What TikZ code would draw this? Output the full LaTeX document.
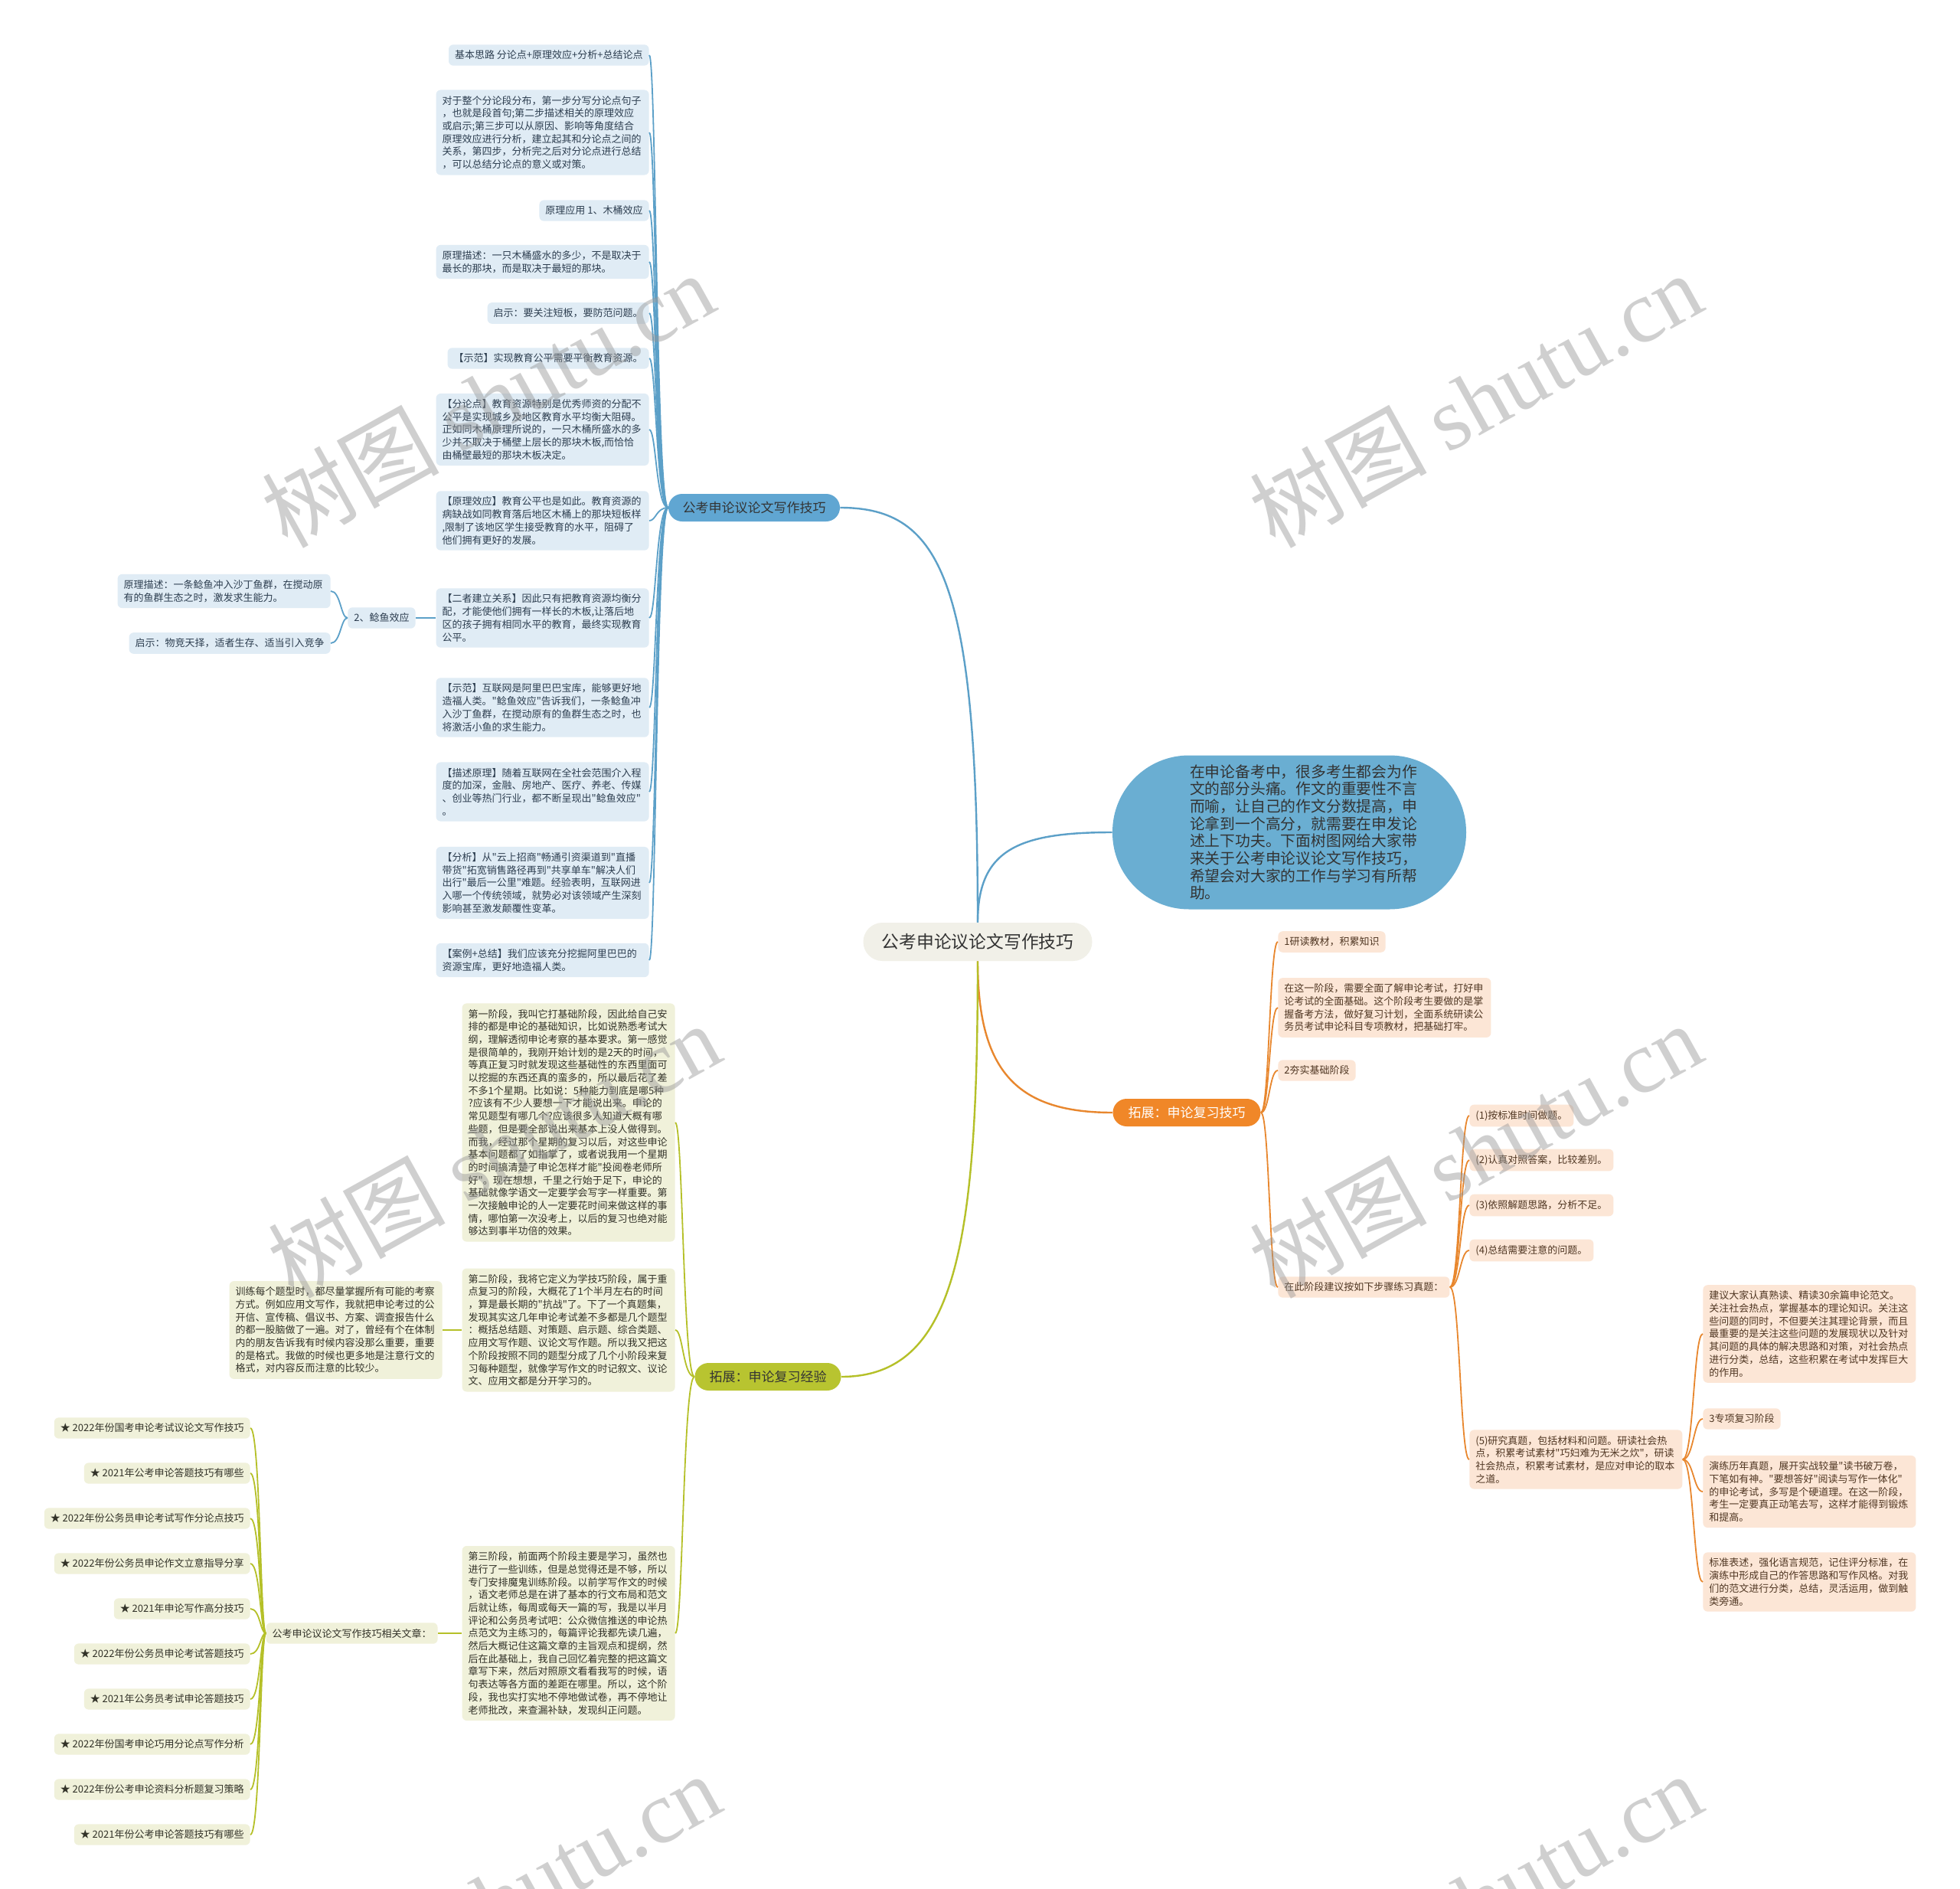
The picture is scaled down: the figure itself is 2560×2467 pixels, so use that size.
\documentclass[tikz,border=0pt]{standalone}
\usepackage{fontspec}
\setmainfont{Noto Sans CJK SC}
\newfontfamily\cjk{Noto Sans CJK SC}
\newfontfamily\wmlatin{Liberation Serif}

% colours
\definecolor{rootfill}{RGB}{241,240,232}
\definecolor{darktext}{RGB}{51,51,51}
\definecolor{blueln}{RGB}{92,160,200}
\definecolor{bluebranch}{RGB}{96,166,210}
\definecolor{bubblefill}{RGB}{106,174,210}
\definecolor{bluepale}{RGB}{224,236,245}
\definecolor{bluetext}{RGB}{45,62,80}
\definecolor{orangeln}{RGB}{232,135,46}
\definecolor{orangebranch}{RGB}{240,135,40}
\definecolor{orangepale}{RGB}{252,230,214}
\definecolor{orangetext}{RGB}{80,55,35}
\definecolor{greenln}{RGB}{181,192,40}
\definecolor{greenbranch}{RGB}{184,196,48}
\definecolor{greenpale}{RGB}{240,241,218}
\definecolor{greentext}{RGB}{50,50,40}
\definecolor{wmgray}{RGB}{150,150,150}

\newcommand\leaffont{\cjk\fontsize{6.5pt}{8.35pt}\selectfont}
\newcommand\branchfont{\cjk\fontsize{8.5pt}{10pt}\selectfont}
\newcommand\rootfont{\cjk\fontsize{11.4pt}{13pt}\selectfont}
\newcommand\bubblefont{\cjk\fontsize{9.9pt}{11.35pt}\selectfont}

\tikzset{
  leaf/.style={inner xsep=4pt, inner ysep=3.8pt, rounded corners=3pt, font=\leaffont, align=left},
  wide/.style={text width=131pt},
  bleaf/.style={leaf, fill=bluepale, text=bluetext, anchor=east},
  oleaf/.style={leaf, fill=orangepale, text=orangetext, anchor=west},
  gleaf/.style={leaf, fill=greenpale, text=greentext, anchor=east},
  branch/.style={rounded corners=9pt, minimum height=18pt, inner xsep=9pt, font=\branchfont},
  bline/.style={draw=blueln, line width=0.9pt},
  oline/.style={draw=orangeln, line width=0.9pt},
  gline/.style={draw=greenln, line width=0.9pt},
}

\begin{document}
\begin{tikzpicture}[x=0.5pt, y=-0.5pt]
  \useasboundingbox (0,0) rectangle (2560,2467);
  \fill[white] (0,0) rectangle (2560,2467);

  % centre and intro
  \node[fill=rootfill, text=darktext, rounded corners=12.5pt, minimum width=149.5pt, minimum height=25pt, font=\rootfont] (root) at (1277,1230) {公考申论议论文写作技巧};
  \node[fill=bubblefill, text=darktext, rounded corners=50pt, minimum width=231pt, minimum height=100.5pt, text width=130pt, align=left, font=\bubblefont] (intro) at (1684,1087) {在申论备考中，很多考生都会为作\\文的部分头痛。作文的重要性不言\\而喻，让自己的作文分数提高，申\\论拿到一个高分，就需要在申发论\\述上下功夫。下面树图网给大家带\\来关于公考申论议论文写作技巧，\\希望会对大家的工作与学习有所帮\\助。};

  % branches
  \node[branch, fill=bluebranch, text=darktext, minimum width=112pt] (bb) at (985,663) {公考申论议论文写作技巧};
  \node[branch, fill=orangebranch, text=white, minimum width=96.5pt] (ob) at (1550,1453) {拓展：申论复习技巧};
  \node[branch, fill=greenbranch, text=darktext, minimum width=95.5pt] (gb) at (1003,1798) {拓展：申论复习经验};

  \draw[bline, line width=1.2pt] (root.north) .. controls +(0,-445) and +(133,0) .. (bb.east);
  \draw[bline, line width=1.2pt] (root.north) .. controls +(0,-95) and +(-123,0) .. (intro.west);
  \draw[oline, line width=1.2pt] (root.south) .. controls +(0,146) and +(-123,0) .. (ob.west);
  \draw[gline, line width=1.2pt] (root.south) .. controls +(0,366) and +(151,0) .. (gb.east);

  % blue branch
  \node[bleaf] (b1) at (848,72) {基本思路 分论点+原理效应+分析+总结论点};
  \node[bleaf, wide] (b2) at (848,173) {对于整个分论段分布，第一步分写分论点句子\\，也就是段首句;第二步描述相关的原理效应\\或启示;第三步可以从原因、影响等角度结合\\原理效应进行分析，建立起其和分论点之间的\\关系，第四步，分析完之后对分论点进行总结\\，可以总结分论点的意义或对策。};
  \node[bleaf] (b3) at (848,275) {原理应用 1、木桶效应};
  \node[bleaf, wide] (b4) at (848,342) {原理描述：一只木桶盛水的多少，不是取决于\\最长的那块，而是取决于最短的那块。};
  \node[bleaf] (b5) at (848,409) {启示：要关注短板，要防范问题。};
  \node[bleaf] (b6) at (848,468) {【示范】实现教育公平需要平衡教育资源。};
  \node[bleaf, wide] (b7) at (848,561) {【分论点】教育资源特别是优秀师资的分配不\\公平是实现城乡及地区教育水平均衡大阻碍。\\正如同木桶原理所说的，一只木桶所盛水的多\\少并不取决于桶壁上层长的那块木板,而恰恰\\由桶壁最短的那块木板决定。};
  \node[bleaf, wide] (b8) at (848,680) {【原理效应】教育公平也是如此。教育资源的\\病缺战如同教育落后地区木桶上的那块短板样\\,限制了该地区学生接受教育的水平，阻碍了\\他们拥有更好的发展。};
  \node[bleaf, wide] (b9) at (848,807) {【二者建立关系】因此只有把教育资源均衡分\\配，才能使他们拥有一样长的木板,让落后地\\区的孩子拥有相同水平的教育，最终实现教育\\公平。};
  \node[bleaf, wide] (b10) at (848,924) {【示范】互联网是阿里巴巴宝库，能够更好地\\造福人类。"鲶鱼效应"告诉我们，一条鲶鱼冲\\入沙丁鱼群，在搅动原有的鱼群生态之时，也\\将激活小鱼的求生能力。};
  \node[bleaf, wide] (b11) at (848,1034) {【描述原理】随着互联网在全社会范围介入程\\度的加深，金融、房地产、医疗、养老、传媒\\、创业等热门行业，都不断呈现出"鲶鱼效应"\\。};
  \node[bleaf, wide] (b12) at (848,1153) {【分析】从"云上招商"畅通引资渠道到"直播\\带货"拓宽销售路径再到"共享单车"解决人们\\出行"最后一公里"难题。经验表明，互联网进\\入哪一个传统领域，就势必对该领域产生深刻\\影响甚至激发颠覆性变革。};
  \node[bleaf, wide] (b13) at (848,1254) {【案例+总结】我们应该充分挖掘阿里巴巴的\\资源宝库，更好地造福人类。};

  \coordinate (bsp) at (857,663);
  \foreach \i in {1,...,13}
    \draw[bline] (bb.west) .. controls (bsp) and (bsp |- b\i.east) .. (b\i.east);

  % catfish effect
  \node[bleaf] (n0) at (543,807) {2、鲶鱼效应};
  \node[bleaf, wide] (n1) at (432,772) {原理描述：一条鲶鱼冲入沙丁鱼群，在搅动原\\有的鱼群生态之时，激发求生能力。};
  \node[bleaf] (n2) at (432,840) {启示：物竞天择，适者生存、适当引入竞争};
  \draw[bline] (b9.west) -- (n0.east);
  \coordinate (nsp) at (445,807);
  \foreach \c in {n1,n2}
    \draw[bline] (n0.west) .. controls (nsp) and (nsp |- \c.east) .. (\c.east);

  % orange branch
  \node[oleaf] (o1) at (1669,1230) {1研读教材，积累知识};
  \node[oleaf, wide] (o2) at (1669,1316) {在这一阶段，需要全面了解申论考试，打好申\\论考试的全面基础。这个阶段考生要做的是掌\\握备考方法，做好复习计划，全面系统研读公\\务员考试申论科目专项教材，把基础打牢。};
  \node[oleaf] (o3) at (1669,1398) {2夯实基础阶段};
  \node[oleaf] (o4) at (1669,1681) {在此阶段建议按如下步骤练习真题：};
  \coordinate (osp) at (1658,1453);
  \foreach \i in {1,...,4}
    \draw[oline] (ob.east) .. controls (osp) and (osp |- o\i.west) .. (o\i.west);

  \node[oleaf] (p1) at (1919,1457) {(1)按标准时间做题。};
  \node[oleaf] (p2) at (1919,1515) {(2)认真对照答案，比较差别。};
  \node[oleaf] (p3) at (1919,1574) {(3)依照解题思路，分析不足。};
  \node[oleaf] (p4) at (1919,1633) {(4)总结需要注意的问题。};
  \node[oleaf, wide] (p5) at (1919,1906) {(5)研究真题，包括材料和问题。研读社会热\\点，积累考试素材"巧妇难为无米之炊"，研读\\社会热点，积累考试素材，是应对申论的取本\\之道。};
  \coordinate (psp) at (1907,1681);
  \foreach \i in {1,...,5}
    \draw[oline] (o4.east) .. controls (psp) and (psp |- p\i.west) .. (p\i.west);

  \node[oleaf, wide] (q1) at (2224,1742) {建议大家认真熟读、精读30余篇申论范文。\\关注社会热点，掌握基本的理论知识。关注这\\些问题的同时，不但要关注其理论背景，而且\\最重要的是关注这些问题的发展现状以及针对\\其问题的具体的解决思路和对策，对社会热点\\进行分类，总结，这些积累在考试中发挥巨大\\的作用。};
  \node[oleaf] (q2) at (2224,1853) {3专项复习阶段};
  \node[oleaf, wide] (q3) at (2224,1948) {演练历年真题，展开实战较量"读书破万卷，\\下笔如有神。"要想答好"阅读与写作一体化"\\的申论考试，多写是个硬道理。在这一阶段，\\考生一定要真正动笔去写，这样才能得到锻炼\\和提高。};
  \node[oleaf, wide] (q4) at (2224,2066) {标准表述，强化语言规范，记住评分标准，在\\演练中形成自己的作答思路和写作风格。对我\\们的范文进行分类，总结，灵活运用，做到触\\类旁通。};
  \coordinate (qsp) at (2212,1906);
  \foreach \i in {1,...,4}
    \draw[oline] (p5.east) .. controls (qsp) and (qsp |- q\i.west) .. (q\i.west);

  % green branch
  \node[gleaf, wide] (g1) at (882,1466) {第一阶段，我叫它打基础阶段，因此给自己安\\排的都是申论的基础知识，比如说熟悉考试大\\纲，理解透彻申论考察的基本要求。第一感觉\\是很简单的，我刚开始计划的是2天的时间，\\等真正复习时就发现这些基础性的东西里面可\\以挖掘的东西还真的蛮多的，所以最后花了差\\不多1个星期。比如说：5种能力到底是哪5种\\?应该有不少人要想一下才能说出来。申论的\\常见题型有哪几个?应该很多人知道大概有哪\\些题，但是要全部说出来基本上没人做得到。\\而我，经过那个星期的复习以后，对这些申论\\基本问题都了如指掌了，或者说我用一个星期\\的时间搞清楚了申论怎样才能"投阅卷老师所\\好"。现在想想，千里之行始于足下，申论的\\基础就像学语文一定要学会写字一样重要。第\\一次接触申论的人一定要花时间来做这样的事\\情，哪怕第一次没考上，以后的复习也绝对能\\够达到事半功倍的效果。};
  \node[gleaf, wide] (g2) at (882,1737) {第二阶段，我将它定义为学技巧阶段，属于重\\点复习的阶段，大概花了1个半月左右的时间\\，算是最长期的"抗战"了。下了一个真题集，\\发现其实这几年申论考试差不多都是几个题型\\：概括总结题、对策题、启示题、综合类题、\\应用文写作题、议论文写作题。所以我又把这\\个阶段按照不同的题型分成了几个小阶段来复\\习每种题型，就像学写作文的时记叙文、议论\\文、应用文都是分开学习的。};
  \node[gleaf, wide] (g3) at (882,2133) {第三阶段，前面两个阶段主要是学习，虽然也\\进行了一些训练，但是总觉得还是不够，所以\\专门安排魔鬼训练阶段。以前学写作文的时候\\，语文老师总是在讲了基本的行文布局和范文\\后就让练，每周或每天一篇的写，我是以半月\\评论和公务员考试吧：公众微信推送的申论热\\点范文为主练习的，每篇评论我都先读几遍，\\然后大概记住这篇文章的主旨观点和提纲，然\\后在此基础上，我自己回忆着完整的把这篇文\\章写下来，然后对照原文看看我写的时候，语\\句表达等各方面的差距在哪里。所以，这个阶\\段，我也实打实地不停地做试卷，再不停地让\\老师批改，来查漏补缺，发现纠正问题。};
  \coordinate (gsp) at (892,1798);
  \foreach \i in {1,...,3}
    \draw[gline] (gb.west) .. controls (gsp) and (gsp |- g\i.east) .. (g\i.east);

  \node[gleaf, wide] (g2a) at (578,1737) {训练每个题型时，都尽量掌握所有可能的考察\\方式。例如应用文写作，我就把申论考过的公\\开信、宣传稿、倡议书、方案、调查报告什么\\的都一股脑做了一遍。对了，曾经有个在体制\\内的朋友告诉我有时候内容没那么重要，重要\\的是格式。我做的时候也更多地是注意行文的\\格式，对内容反而注意的比较少。};
  \draw[gline] (g2.west) -- (g2a.east);

  \node[gleaf] (g3a) at (572,2133) {公考申论议论文写作技巧相关文章：};
  \draw[gline] (g3.west) -- (g3a.east);

  % related articles
  \foreach \t [count=\i] in {★ 2022年份国考申论考试议论文写作技巧, ★ 2021年公考申论答题技巧有哪些, ★ 2022年份公务员申论考试写作分论点技巧, ★ 2022年份公务员申论作文立意指导分享, ★ 2021年申论写作高分技巧, ★ 2022年份公务员申论考试答题技巧, ★ 2021年公务员考试申论答题技巧, ★ 2022年份国考申论巧用分论点写作分析, ★ 2022年份公考申论资料分析题复习策略, ★ 2021年份公考申论答题技巧有哪些}
    \node[gleaf] (s\i) at (327,{1806+59*\i}) {\t};
  \coordinate (ssp) at (340,2133);
  \foreach \i in {1,...,10}
    \draw[gline] (g3a.west) .. controls (ssp) and (ssp |- s\i.east) .. (s\i.east);

  % watermarks
  \foreach \wx/\wy [count=\k] in {637/522, 1927/522, 645/1502, 1927/1502, 645/2482, 1927/2482}
    \node[rotate=29, text=wmgray, opacity=0.45, font=\cjk\fontsize{58pt}{60pt}\selectfont] (wm\k) at (\wx,\wy) {树图 {\wmlatin shutu.cn}};
\end{tikzpicture}
\end{document}
